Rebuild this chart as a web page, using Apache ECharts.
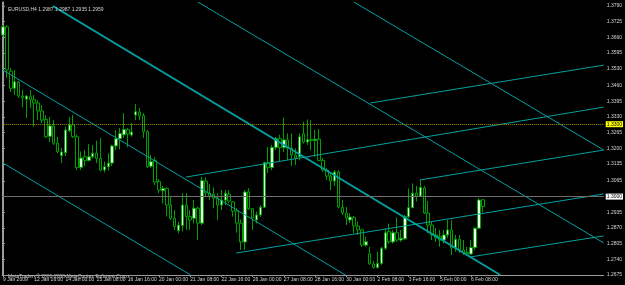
<!DOCTYPE html>
<html>
<head>
<meta charset="utf-8">
<script src="https://cdn.jsdelivr.net/npm/echarts@6/dist/echarts.min.js"></script>
<style>
  html, body { margin: 0; padding: 0; background: #000; }
  #chart { width: 625px; height: 285px; }
</style>
</head>
<body>
<div id="chart"></div>
<script>
// EURUSD H4, one row per bar: [open, close, low, high], first bar 9 Jan 2009 08:00
const bars = [
  [1.3670, 1.3704, 1.3662, 1.3711], [1.3704, 1.3525, 1.3492, 1.3711], [1.3520, 1.3449, 1.3434, 1.3533],
  [1.3449, 1.3476, 1.3421, 1.3525], [1.3474, 1.3417, 1.3409, 1.3480], [1.3417, 1.3410, 1.3371, 1.3442],
  [1.3404, 1.3417, 1.3326, 1.3421], [1.3414, 1.3402, 1.3367, 1.3442], [1.3402, 1.3388, 1.3289, 1.3421],
  [1.3388, 1.3355, 1.3317, 1.3400], [1.3355, 1.3317, 1.3305, 1.3380], [1.3320, 1.3248, 1.3243, 1.3338],
  [1.3250, 1.3293, 1.3226, 1.3330], [1.3293, 1.3221, 1.3214, 1.3317], [1.3222, 1.3186, 1.3180, 1.3247],
  [1.3170, 1.3185, 1.3139, 1.3201], [1.3182, 1.3276, 1.3168, 1.3290], [1.3274, 1.3297, 1.3267, 1.3330],
  [1.3297, 1.3248, 1.3243, 1.3338], [1.3248, 1.3121, 1.3110, 1.3256], [1.3121, 1.3160, 1.3110, 1.3187],
  [1.3165, 1.3150, 1.3125, 1.3193], [1.3150, 1.3165, 1.3145, 1.3218], [1.3165, 1.3180, 1.3158, 1.3214],
  [1.3180, 1.3158, 1.3139, 1.3232], [1.3158, 1.3110, 1.3105, 1.3243], [1.3110, 1.3124, 1.3100, 1.3145],
  [1.3124, 1.3139, 1.3108, 1.3180], [1.3139, 1.3210, 1.3127, 1.3214], [1.3210, 1.3240, 1.3193, 1.3276],
  [1.3240, 1.3262, 1.3195, 1.3285], [1.3256, 1.3278, 1.3243, 1.3346], [1.3278, 1.3260, 1.3205, 1.3285],
  [1.3255, 1.3268, 1.3248, 1.3305], [1.3338, 1.3352, 1.3317, 1.3384], [1.3350, 1.3335, 1.3317, 1.3367],
  [1.3336, 1.3269, 1.3243, 1.3346], [1.3269, 1.3124, 1.3118, 1.3276], [1.3126, 1.3145, 1.3118, 1.3172],
  [1.3150, 1.3060, 1.3048, 1.3164], [1.3063, 1.3027, 1.3014, 1.3073], [1.3024, 1.3034, 1.2972, 1.3044],
  [1.3034, 1.2965, 1.2917, 1.3038], [1.2965, 1.2910, 1.2903, 1.2999], [1.2910, 1.2876, 1.2862, 1.2944],
  [1.2859, 1.2882, 1.2848, 1.2896], [1.2880, 1.2965, 1.2855, 1.3014], [1.2965, 1.2917, 1.2862, 1.3014],
  [1.2917, 1.2903, 1.2862, 1.2944], [1.2910, 1.2952, 1.2889, 1.2986], [1.2952, 1.2890, 1.2820, 1.2958],
  [1.2890, 1.3066, 1.2882, 1.3082], [1.3064, 1.3015, 1.2999, 1.3080], [1.3015, 1.3002, 1.2986, 1.3052],
  [1.3010, 1.2993, 1.2952, 1.3038], [1.2993, 1.2965, 1.2903, 1.3014], [1.2965, 1.2986, 1.2944, 1.3027],
  [1.2985, 1.3014, 1.2965, 1.3027], [1.3010, 1.2981, 1.2972, 1.3027], [1.2978, 1.2940, 1.2917, 1.2981],
  [1.2940, 1.2890, 1.2850, 1.2952], [1.2890, 1.2812, 1.2779, 1.2905], [1.2812, 1.3019, 1.2779, 1.3027],
  [1.3020, 1.2950, 1.2945, 1.3036], [1.2950, 1.2912, 1.2862, 1.2953], [1.2903, 1.2924, 1.2889, 1.2938],
  [1.2924, 1.2956, 1.2915, 1.2965], [1.2956, 1.3141, 1.2952, 1.3145], [1.3141, 1.3120, 1.3098, 1.3205],
  [1.3120, 1.3204, 1.3110, 1.3214], [1.3204, 1.3240, 1.3193, 1.3247], [1.3240, 1.3203, 1.3147, 1.3256],
  [1.3203, 1.3235, 1.3185, 1.3328], [1.3235, 1.3200, 1.3152, 1.3262], [1.3200, 1.3172, 1.3127, 1.3262],
  [1.3172, 1.3160, 1.3131, 1.3200], [1.3165, 1.3248, 1.3150, 1.3262], [1.3260, 1.3226, 1.3220, 1.3310],
  [1.3226, 1.3236, 1.3214, 1.3320], [1.3236, 1.3232, 1.3193, 1.3317], [1.3232, 1.3238, 1.3165, 1.3276],
  [1.3238, 1.3150, 1.3147, 1.3280], [1.3150, 1.3110, 1.3103, 1.3160], [1.3110, 1.3085, 1.3069, 1.3118],
  [1.3085, 1.3065, 1.3027, 1.3093], [1.3065, 1.3102, 1.3044, 1.3110], [1.3102, 1.2957, 1.2952, 1.3110],
  [1.2955, 1.2932, 1.2924, 1.2986], [1.2932, 1.2911, 1.2882, 1.2957], [1.2903, 1.2915, 1.2891, 1.2931],
  [1.2913, 1.2878, 1.2849, 1.2920], [1.2878, 1.2862, 1.2841, 1.2896], [1.2862, 1.2799, 1.2792, 1.2866],
  [1.2799, 1.2813, 1.2792, 1.2833], [1.2762, 1.2721, 1.2717, 1.2791], [1.2721, 1.2706, 1.2702, 1.2733],
  [1.2706, 1.2723, 1.2702, 1.2772], [1.2723, 1.2786, 1.2717, 1.2791], [1.2786, 1.2850, 1.2779, 1.2868],
  [1.2856, 1.2812, 1.2805, 1.2888], [1.2812, 1.2850, 1.2805, 1.2862], [1.2850, 1.2820, 1.2812, 1.2914],
  [1.2820, 1.2827, 1.2812, 1.2862], [1.2825, 1.2916, 1.2820, 1.2924], [1.2916, 1.2954, 1.2911, 1.3034],
  [1.2954, 1.3014, 1.2952, 1.3055], [1.3014, 1.3002, 1.2980, 1.3044], [1.3002, 1.3038, 1.2998, 1.3069],
  [1.3036, 1.2932, 1.2928, 1.3044], [1.2932, 1.2882, 1.2849, 1.2982], [1.2882, 1.2841, 1.2820, 1.2895],
  [1.2841, 1.2829, 1.2812, 1.2870], [1.2835, 1.2820, 1.2792, 1.2862], [1.2820, 1.2841, 1.2805, 1.2862],
  [1.2841, 1.2862, 1.2829, 1.2903], [1.2862, 1.2787, 1.2758, 1.2903], [1.2787, 1.2823, 1.2772, 1.2841],
  [1.2823, 1.2779, 1.2766, 1.2841], [1.2779, 1.2768, 1.2758, 1.2820], [1.2768, 1.2762, 1.2758, 1.2791],
  [1.2762, 1.2789, 1.2758, 1.2820], [1.2789, 1.2869, 1.2779, 1.2873], [1.2869, 1.2986, 1.2866, 1.2993],
  [1.2987, 1.2959, 1.2935, 1.2987],
];

// time scale: bar index of each label and its text
const timeTickIdx = [0, 8, 16, 24, 32, 40, 48, 56, 64, 72, 80, 88, 96, 104, 112, 120];
const timeLabels = [
  "9 Jan 2009", "12 Jan 16:00", "14 Jan 00:00", "15 Jan 08:00", "16 Jan 16:00", "20 Jan 00:00",
  "21 Jan 08:00", "22 Jan 16:00", "26 Jan 00:00", "27 Jan 08:00", "28 Jan 16:00", "30 Jan 00:00",
  "2 Feb 08:00", "3 Feb 16:00", "5 Feb 00:00", "6 Feb 08:00",
];
const priceLabels = [
  "1.3790", "1.3725", "1.3660", "1.3595", "1.3530", "1.3460", "1.3395", "1.3330", "1.3265",
  "1.3200", "1.3135", "1.3065", "1.3000", "1.2935", "1.2870", "1.2805", "1.2740", "1.2675",
];

const levelPrice = 1.3300;
const lastPrice = 1.2959;

// trend lines, [bar index, price] at both ends
const medianLine = [[12.8, 1.3790], [127.5, 1.2675]];
const fallLineA = [[49.9, 1.3807], [154, 1.2808]];
const fallLineB = [[89.9, 1.3807], [154, 1.3193]];
const fallLineC = [[-0.2, 1.3526], [87.8, 1.2675]];
const fallLineD = [[-0.2, 1.3141], [48.1, 1.2675]];
const riseLineA = [[94.2, 1.3388], [154, 1.3545]];
const riseLineB = [[46.9, 1.3081], [154, 1.3371]];
const riseLineC = [[106.9, 1.3069], [154, 1.3193]];
const riseLineD = [[59.8, 1.2766], [154, 1.3011]];
const riseLineE = [[119.9, 1.2750], [154, 1.2837]];

const font = "Liberation Sans, Arial, sans-serif";
const textColor = "#d4d4d4";
const axisColor = "#9a9a9a";
const lineColor = "#05a0a0";

const chart = echarts.init(document.getElementById("chart"));

const trendSeries = [
  [medianLine, 2], [fallLineA, 1], [fallLineB, 1], [fallLineC, 1], [fallLineD, 1],
  [riseLineA, 1], [riseLineB, 1], [riseLineC, 1], [riseLineD, 1], [riseLineE, 1],
].map(([points, width]) => ({
  type: "line",
  data: points,
  symbol: "none",
  silent: true,
  z: 4,
  lineStyle: { color: lineColor, width },
}));

function boxLabel(bg) {
  return {
    show: true,
    position: "end",
    distance: 2,
    formatter: (p) => p.value.toFixed(4),
    color: "#000",
    backgroundColor: bg,
    fontSize: 5,
    fontFamily: font,
    padding: [1, 1, 0, 1],
  };
}

chart.setOption({
  backgroundColor: "#000",
  animation: false,
  title: [
    {
      text: "EURUSD,H4 1.2987 1.2987 1.2935 1.2959",
      left: 3,
      top: 2,
      textStyle: { color: textColor, fontSize: 5, fontWeight: "normal", fontFamily: font },
    },
    {
      text: "MetaTrader, © 2001-2008 MetaQuotes Software Corp.",
      left: 3,
      top: 269,
      textStyle: { color: "#bdbdbd", fontSize: 5, fontWeight: "normal", fontFamily: font },
    },
  ],
  grid: { left: 1, right: 18, top: 2, bottom: 10 },
  xAxis: {
    type: "value",
    min: -0.2,
    max: 154,
    splitLine: { show: false },
    axisLine: { lineStyle: { color: axisColor } },
    axisTick: { customValues: timeTickIdx, length: 2, lineStyle: { color: axisColor } },
    axisLabel: {
      customValues: timeTickIdx,
      formatter: (v) => timeLabels[timeTickIdx.indexOf(Math.round(v))] || "",
      color: textColor,
      fontSize: 5,
      fontFamily: font,
      align: "left",
      margin: 2,
    },
  },
  yAxis: [
    {
      type: "value",
      position: "right",
      min: 1.2675,
      max: 1.38066,
      splitLine: { show: false },
      axisLine: { show: true, lineStyle: { color: axisColor } },
      axisTick: { show: true, customValues: priceLabels.map(Number), length: 2, lineStyle: { color: axisColor } },
      axisLabel: {
        customValues: priceLabels.map(Number),
        formatter: (v) => v.toFixed(4),
        color: textColor,
        fontSize: 5,
        fontFamily: font,
        margin: 3,
      },
    },
    {
      type: "value",
      position: "left",
      min: 1.2675,
      max: 1.38066,
      splitLine: { show: false },
      axisLine: { show: true, lineStyle: { color: axisColor } },
      axisTick: { show: false },
      axisLabel: { show: false },
    },
  ],
  series: [
    {
      type: "candlestick",
      dimensions: ["idx", "open", "close", "low", "high"],
      encode: { x: 0, y: [1, 2, 3, 4] },
      data: bars.map((b, i) => [i, ...b]),
      barWidth: 3,
      z: 3,
      itemStyle: {
        color: "#e4ffe4",
        color0: "#000",
        borderColor: "#00a000",
        borderColor0: "#00a000",
        borderWidth: 1,
      },
      markLine: {
        symbol: "none",
        silent: true,
        animation: false,
        data: [
          { yAxis: levelPrice, lineStyle: { color: "#a89000", type: "dotted", width: 1 }, label: boxLabel("#ffff00") },
          { yAxis: lastPrice, lineStyle: { color: "#6e6e6e", type: "solid", width: 1 }, label: boxLabel("#ffffff") },
        ],
      },
    },
    ...trendSeries,
  ],
});
</script>
</body>
</html>
